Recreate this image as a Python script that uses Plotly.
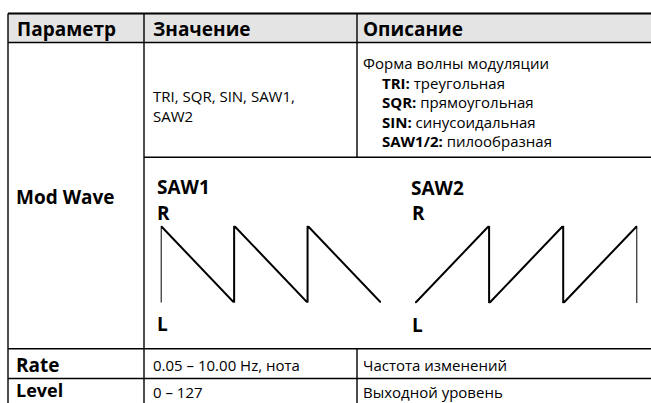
import plotly.graph_objects as go

W, H = 651, 403

# ---- data ----
header_labels = ["Параметр", "Значение", "Описание"]
row_params = ["Mod Wave", "Rate", "Level"]
row_values = [["TRI, SQR, SIN, SAW1,", "SAW2"], ["0.05 – 10.00 Hz, нота"], ["0 – 127"]]
desc_title = "Форма волны модуляции"
wave_names = ["TRI", "SQR", "SIN", "SAW1/2"]
wave_desc = ["треугольная", "прямоугольная", "синусоидальная", "пилообразная"]
row_desc_rest = ["Частота изменений", "Выходной уровень"]
wave_titles = ["SAW1", "SAW2"]
level_labels = ["R", "L"]

# sawtooth waveforms: phase (cycles) and level (0 = L, 1 = R)
saw1_phase = [0, 0, 1, 1, 2, 2, 3]
saw1_level = [0, 1, 0, 1, 0, 1, 0]
saw2_phase = [0, 1, 1, 2, 2, 3, 3]
saw2_level = [0, 1, 0, 1, 0, 1, 0]

FONT = "Open Sans"
BOLD = 19
REG = 15
fig = go.Figure()

# waveform traces on their own axes
fig.add_trace(go.Scatter(x=saw1_phase, y=saw1_level, mode="lines",
                         line=dict(color="black", width=2), xaxis="x2", yaxis="y2",
                         hoverinfo="skip", showlegend=False))
fig.add_trace(go.Scatter(x=saw2_phase, y=saw2_level, mode="lines",
                         line=dict(color="black", width=2), xaxis="x3", yaxis="y3",
                         hoverinfo="skip", showlegend=False))
# invisible trace for main (pixel) axis
fig.add_trace(go.Scatter(x=[0, W], y=[0, H], mode="markers", marker=dict(opacity=0),
                         hoverinfo="skip", showlegend=False))

# ---- table layout (pixels) ----
xL, xC1, xC2, xR = 8, 144, 357, 660
yT, yH, yM, yR1, yR2, yB = 13.5, 42.5, 157.3, 348.7, 378.5, 410
shapes = []
def line(x0, y0, x1, y1, w=1.4):
    shapes.append(dict(type="line", xref="x", yref="y", x0=x0, y0=y0, x1=x1, y1=y1,
                       line=dict(color="black", width=w), layer="above"))
shapes.append(dict(type="rect", xref="x", yref="y", x0=xL, y0=yT, x1=xR, y1=yH,
                   fillcolor="#e4e4e4", line=dict(width=0), layer="below"))
line(xL, yT, xR, yT, 1.8)
line(xL, yH, xR, yH)
line(xC1, yM, xR, yM)
line(xL, yR1, xR, yR1)
line(xL, yR2, xR, yR2)
line(xL, yT, xL, yB)
line(xC1, yT, xC1, yB)
line(xC2, yT, xC2, yM)
line(xC2, yR1, xC2, yB)

ann = []
def txt(x, y, s, size, bold=False, yanchor="middle"):
    ann.append(dict(x=x, y=y, xref="x", yref="y", text=(f"<b>{s}</b>" if bold else s),
                    showarrow=False, xanchor="left", yanchor=yanchor, borderpad=0,
                    font=dict(family=FONT, size=size, color="black")))

# header
for x, s in zip([16, 152, 362], header_labels):
    txt(x, 29, s, BOLD, True)

# Mod Wave row
txt(15, 196.5, row_params[0], BOLD, True)
txt(152, 96, row_values[0][0], REG)
txt(152, 116, row_values[0][1], REG)
txt(362, 63, desc_title, REG)
for i, (n, d) in enumerate(zip(wave_names, wave_desc)):
    txt(381, 82.5 + i * 19.5, f"<b>{n}:</b> {d}", REG)

# wave labels
txt(156, 187, wave_titles[0], BOLD, True)
txt(156, 212.5, level_labels[0], BOLD, True)
txt(156, 323.5, level_labels[1], BOLD, True)
txt(410, 188, wave_titles[1], BOLD, True)
txt(411, 213, level_labels[0], BOLD, True)
txt(411, 325, level_labels[1], BOLD, True)

# Rate / Level rows
txt(15, 364.5, row_params[1], BOLD, True)
txt(152, 364.5, row_values[1][0], REG)
txt(362, 364.5, row_desc_rest[0], REG)
txt(15, 403, row_params[2], 18, True, "bottom")
txt(152, 403, row_values[2][0], REG, False, "bottom")
txt(362, 403, row_desc_rest[1], REG, False, "bottom")

def px(v):
    return v / W
def py(v):
    return (H - v) / H

hidden = dict(visible=False, showgrid=False, zeroline=False, fixedrange=True)
fig.update_layout(
    width=W, height=H, margin=dict(l=0, r=0, t=0, b=0),
    paper_bgcolor="white", plot_bgcolor="white",
    xaxis=dict(range=[0, W], domain=[0, 1], **hidden),
    yaxis=dict(range=[H, 0], domain=[0, 1], **hidden),
    xaxis2=dict(range=[0, 3], domain=[px(160.7), px(381)], anchor="y2", **hidden),
    yaxis2=dict(range=[0, 1], domain=[py(302.7), py(225.7)], anchor="x2", **hidden),
    xaxis3=dict(range=[0, 3], domain=[px(415), px(637.3)], anchor="y3", **hidden),
    yaxis3=dict(range=[0, 1], domain=[py(303.3), py(225.7)], anchor="x3", **hidden),
    shapes=shapes, annotations=ann, showlegend=False,
)
fig.write_html("out.html", config={"displayModeBar": False},
               post_script="document.body.style.margin='0';document.body.style.overflow='hidden';")
